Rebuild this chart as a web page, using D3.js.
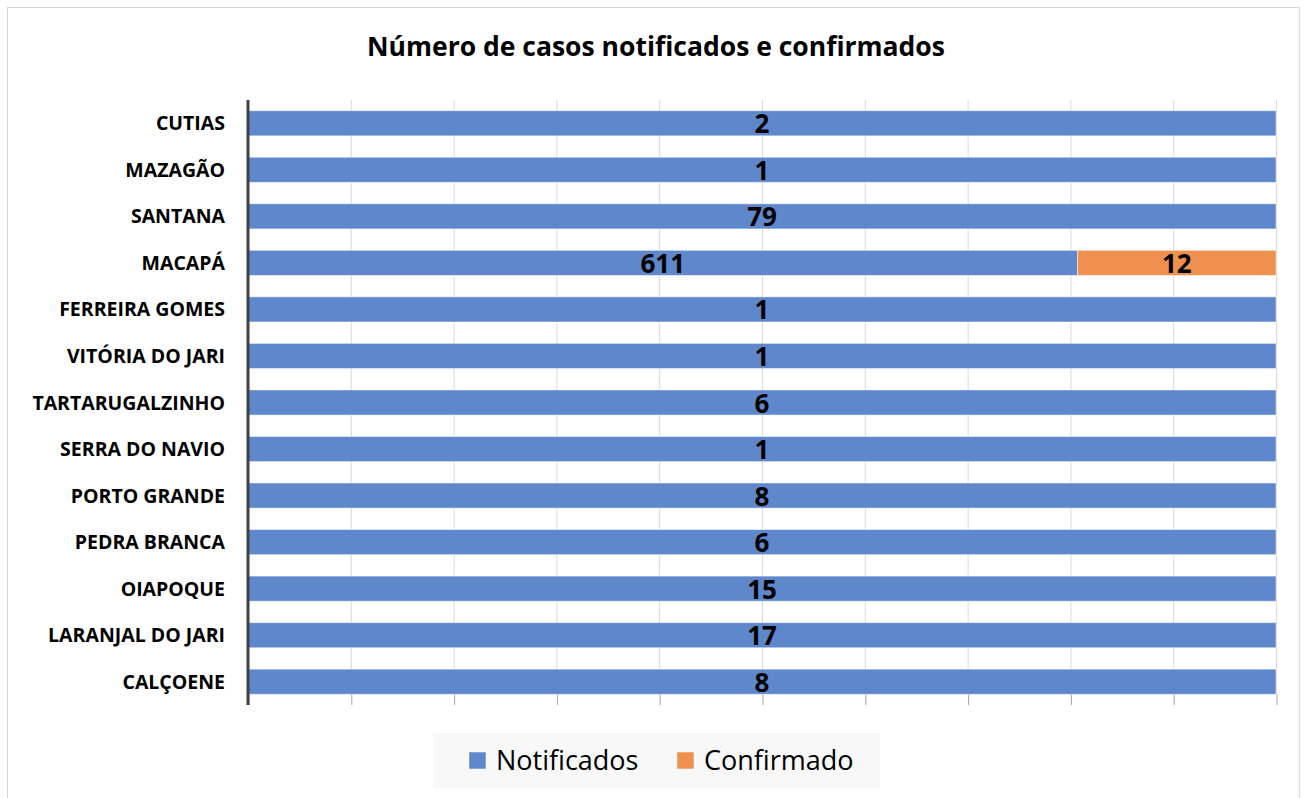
<!DOCTYPE html>
<html><head><meta charset="utf-8">
<script src="https://cdn.jsdelivr.net/npm/d3@7"></script>
<style>body{margin:0;background:#fff}svg{display:block}</style>
</head><body><svg id="c" width="1306" height="798"></svg>
<script>
const categories = ["CUTIAS","MAZAGÃO","SANTANA","MACAPÁ","FERREIRA GOMES","VITÓRIA DO JARI","TARTARUGALZINHO","SERRA DO NAVIO","PORTO GRANDE","PEDRA BRANCA","OIAPOQUE","LARANJAL DO JARI","CALÇOENE"];
const notificados = [2,1,79,611,1,1,6,1,8,6,15,17,8];
const confirmados = [null,null,null,12,null,null,null,null,null,null,null,null,null];
// bar shares (% of each bar) as drawn in the reference
const notificadosPct = [100,100,100,80.7,100,100,100,100,100,100,100,100,100];
const confirmadosPct = [0,0,0,19.3,0,0,0,0,0,0,0,0,0];
const xTicks = [0,10,20,30,40,50,60,70,80,90,100];
const seriesNames = ["Notificados","Confirmado"];
const colors = ["#5f87cc","#f0904f"];

const svg = d3.select("#c");
const font = "'Open Sans', sans-serif";
svg.append("rect").attr("x",7.5).attr("y",7.5).attr("width",1292).attr("height",800)
  .attr("fill","#fff").attr("stroke","#d9d9d9");

svg.append("text").attr("x",656).attr("y",56).attr("text-anchor","middle")
  .attr("font-family",font).attr("font-weight","bold").attr("font-size",26.5)
  .attr("fill","#000").text("Número de casos notificados e confirmados");

const L=248, R=1276, T=100, B=705, gridB=694;
const x = d3.scaleLinear().domain([0,100]).range([L,R]);
const y = d3.scaleBand().domain(categories).range([T,B]).paddingInner(0.46).paddingOuter(0.23);

// gridlines
const g = svg.append("g");
g.selectAll("line.grid").data(xTicks.slice(1)).join("line")
  .attr("x1",d=>x(d)+0.5).attr("x2",d=>x(d)+0.5).attr("y1",T).attr("y2",gridB)
  .attr("stroke","#d9d9d9").attr("stroke-width",1);
// axis ticks at bottom
const ax = svg.append("g").attr("transform",`translate(0.5,${gridB})`)
  .call(d3.axisBottom(x).tickValues(xTicks).tickSize(B-gridB).tickFormat(""));
ax.select(".domain").remove();
ax.selectAll(".tick line").attr("stroke","#a6a6a6");

const rows = categories.map((c,i)=>({c,i}));
const bars = svg.append("g");
const stack = d3.stack().keys([0,1]).value((d,k)=> k===0?notificadosPct[d.i]:confirmadosPct[d.i]);
const series = stack(rows);
series.forEach((s,k)=>{
  bars.selectAll(null).data(s.filter(d=>d[1]>d[0])).join("rect")
    .attr("x",d=>x(d[0])).attr("width",d=>x(d[1])-x(d[0]))
    .attr("y",d=>y(d.data.c)).attr("height",y.bandwidth())
    .attr("fill",colors[k]).attr("stroke","#fff").attr("stroke-opacity",0.5).attr("stroke-width",1);
  bars.selectAll(null).data(s.filter(d=>d[1]>d[0])).join("text")
    .attr("x",d=>(x(d[0])+x(d[1]))/2).attr("y",d=>y(d.data.c)+y.bandwidth()/2+10)
    .attr("text-anchor","middle").attr("font-family",font).attr("font-weight","bold")
    .attr("font-size",26).attr("fill","#000")
    .text(d=> k===0?notificados[d.data.i]:confirmados[d.data.i]);
});

// left axis
svg.append("line").attr("x1",L).attr("x2",L).attr("y1",T).attr("y2",B)
  .attr("stroke","#404040").attr("stroke-width",3);
const yAx = svg.append("g").attr("transform",`translate(${L-23},0)`)
  .call(d3.axisLeft(y).tickSize(0).tickPadding(0));
yAx.select(".domain").remove();
yAx.selectAll("text").attr("font-family",font).attr("font-weight","bold")
  .attr("font-size",19.5).attr("fill","#000").attr("dy","0.36em");

// legend
const lg = svg.append("g");
lg.append("rect").attr("x",433).attr("y",733).attr("width",447).attr("height",55).attr("fill","#f8f8f8");
const lx=[469,677];
seriesNames.forEach((n,k)=>{
  lg.append("rect").attr("x",lx[k]).attr("y",752).attr("width",17).attr("height",17)
    .attr("fill",colors[k]).attr("stroke","#fff").attr("stroke-opacity",0.5);
  lg.append("text").attr("x",lx[k]+27).attr("y",770).attr("font-family",font)
    .attr("font-size",27).attr("fill","#000").text(n);
});
</script></body></html>
